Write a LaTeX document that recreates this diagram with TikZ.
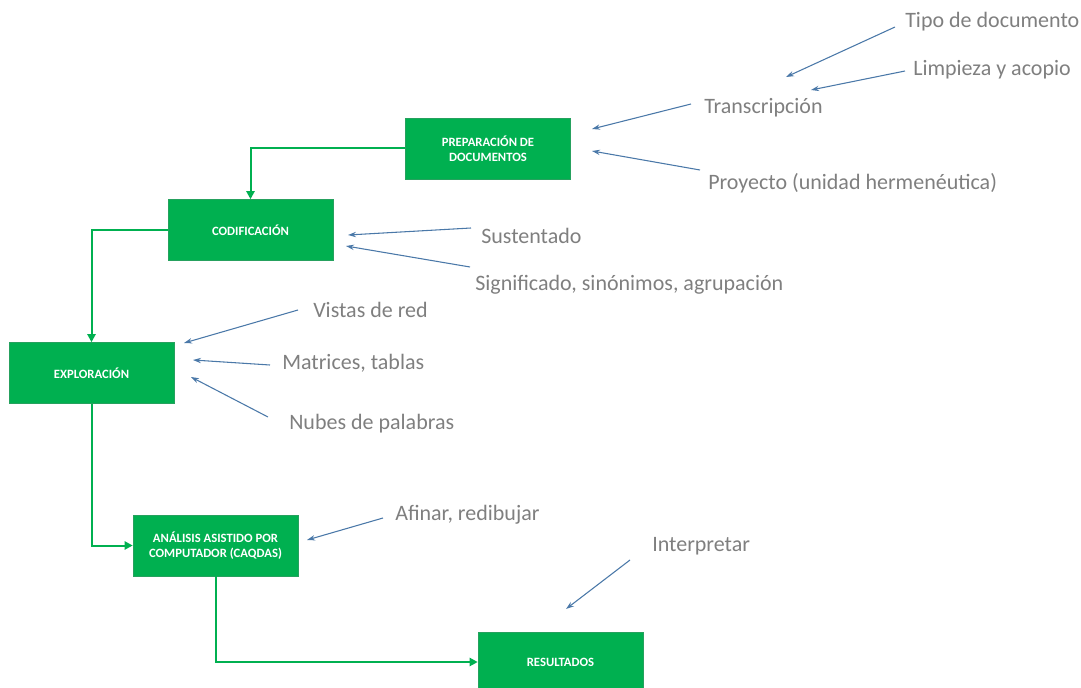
\documentclass[tikz,border=0pt]{standalone}
\usepackage{fontspec}
\setmainfont{Carlito}
\usetikzlibrary{arrows.meta}
\definecolor{boxgreen}{HTML}{00B050}
\definecolor{notegray}{HTML}{7F7F7F}
\definecolor{noteblue}{HTML}{4A78A8}
\begin{document}
\begin{tikzpicture}[x=0.75pt,y=-0.75pt,
  stage/.style={fill=boxgreen,draw=boxgreen!70!gray,line width=0.4pt,minimum width=165*0.75pt,minimum height=61*0.75pt,
    text=white,font=\fontsize{9.5}{11}\selectfont\bfseries,align=center,inner sep=0pt},
  flow/.style={draw=boxgreen,line width=1.5pt,-{Triangle[length=6pt,width=6pt]}},
  note/.style={text=notegray,font=\fontsize{16.5}{19}\selectfont,anchor=west,inner sep=0pt},
  hint/.style={draw=noteblue,line width=0.8pt,-{Stealth[length=6pt,width=4pt]}}]
\useasboundingbox (0,0) rectangle (1081,688);
\begin{scope}
\clip (0,0) rectangle (1081,688);
% process stages
\node[stage] (prep) at (488,148.5) {PREPARACIÓN DE\\DOCUMENTOS};
\node[stage] (cod) at (250.5,230) {CODIFICACIÓN};
\node[stage] (exp) at (91.5,373) {EXPLORACIÓN};
\node[stage] (caq) at (215.5,545.5) {ANÁLISIS ASISTIDO POR\\COMPUTADOR (CAQDAS)};
\node[stage,minimum height=60*0.75pt] (res) at (560.5,662) {RESULTADOS};
\end{scope}
% flow between stages
\draw[flow] (prep.west) -| (cod.north);
\draw[flow] (cod.west) -| (exp.north);
\draw[flow] (exp.south) |- (caq.west);
\draw[flow] (caq.south) |- (res.west);
% notes
\node[note] (tipo) at (905,22) {Tipo de documento};
\node[note] (limp) at (913,70) {Limpieza y acopio};
\node[note] (trans) at (704,108) {Transcripción};
\node[note] (proy) at (708,183) {Proyecto (unidad hermenéutica)};
\node[note] (sust) at (481,236) {Sustentado};
\node[note] (sign) at (475,285) {Significado, sinónimos, agrupación};
\node[note] (vist) at (313,310) {Vistas de red};
\node[note] (matr) at (282,363) {Matrices, tablas};
\node[note] (nube) at (289,424) {Nubes de palabras};
\node[note] (afin) at (395,515) {Afinar, redibujar};
\node[note] (inte) at (652,546) {Interpretar};
% pointer ends
\coordinate (tipoS) at (895,27);   \coordinate (tipoE) at (786,77);
\coordinate (limpS) at (905,71);   \coordinate (limpE) at (811,90);
\coordinate (transS) at (691,104); \coordinate (transE) at (592,129);
\coordinate (proyS) at (700,170);  \coordinate (proyE) at (592,151);
\coordinate (sustS) at (471,228);  \coordinate (sustE) at (348,235);
\coordinate (signS) at (470,267);  \coordinate (signE) at (346,246);
\coordinate (vistS) at (298,310);  \coordinate (vistE) at (184,343);
\coordinate (matrS) at (270,365);  \coordinate (matrE) at (193,360);
\coordinate (nubeS) at (268,417);  \coordinate (nubeE) at (191,377);
\coordinate (afinS) at (383,518);  \coordinate (afinE) at (307,540);
\coordinate (inteS) at (630,560);  \coordinate (inteE) at (566,609);
\foreach \p in {tipo,limp,trans,proy,sust,sign,vist,matr,nube,afin,inte}
  \draw[hint] (\p S) -- (\p E);
\end{tikzpicture}
\end{document}
